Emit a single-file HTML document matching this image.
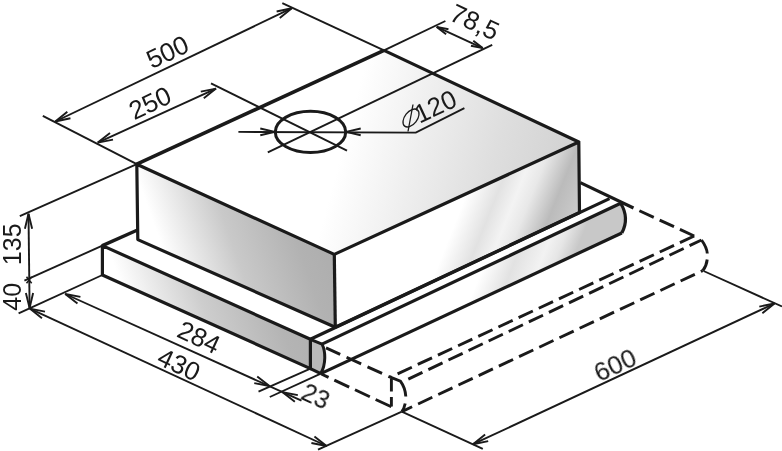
<!DOCTYPE html>
<html><head><meta charset="utf-8"><title>Dimensions</title>
<style>
html,body{margin:0;padding:0;background:#ffffff;}
body{width:782px;height:451px;overflow:hidden;font-family:"Liberation Sans",sans-serif;}
svg{display:block;}
text{font-family:"Liberation Sans",sans-serif;}
</style></head><body>
<svg width="782" height="451" viewBox="0 0 782 451">
<rect width="782" height="451" fill="#ffffff"/>
<defs>
<linearGradient id="gTop" gradientUnits="userSpaceOnUse" x1="350" y1="120" x2="590" y2="185">
<stop offset="0" stop-color="#ffffff"/><stop offset="0.3" stop-color="#eeeeee"/><stop offset="0.6" stop-color="#dedede"/><stop offset="1" stop-color="#cecece"/></linearGradient>
<linearGradient id="gLeft" gradientUnits="userSpaceOnUse" x1="137" y1="250" x2="330" y2="182">
<stop offset="0" stop-color="#ffffff"/><stop offset="0.12" stop-color="#ffffff"/><stop offset="0.45" stop-color="#c9c9c9"/><stop offset="0.75" stop-color="#b2b2b2"/><stop offset="1" stop-color="#ababab"/></linearGradient>
<linearGradient id="gSL" gradientUnits="userSpaceOnUse" x1="102" y1="285" x2="312" y2="212">
<stop offset="0" stop-color="#ffffff"/><stop offset="0.08" stop-color="#ffffff"/><stop offset="0.4" stop-color="#cdcdcd"/><stop offset="0.7" stop-color="#b4b4b4"/><stop offset="1" stop-color="#acacac"/></linearGradient>
<linearGradient id="gRight" gradientUnits="userSpaceOnUse" x1="335" y1="255" x2="575" y2="351">
<stop offset="0" stop-color="#ffffff"/><stop offset="0.385" stop-color="#ffffff"/><stop offset="0.495" stop-color="#e2e2e2"/><stop offset="0.565" stop-color="#f3f3f3"/><stop offset="0.62" stop-color="#e8e8e8"/><stop offset="0.715" stop-color="#bbbbbb"/><stop offset="0.80" stop-color="#c9c9c9"/><stop offset="1" stop-color="#c6c6c6"/></linearGradient>
<linearGradient id="gSF" gradientUnits="userSpaceOnUse" x1="322" y1="330" x2="622" y2="450">
<stop offset="0" stop-color="#ffffff"/><stop offset="0.39" stop-color="#ffffff"/><stop offset="0.475" stop-color="#e2e2e2"/><stop offset="0.55" stop-color="#f2f2f2"/><stop offset="0.59" stop-color="#e6e6e6"/><stop offset="0.64" stop-color="#c8c8c8"/><stop offset="1" stop-color="#c8c8c8"/></linearGradient>
</defs>
<polygon points="136.8,164.2 384,50.4 578.8,142 334.3,254.4" fill="url(#gTop)" stroke="none" stroke-width="0" />
<polygon points="136.8,164.2 334.3,254.4 335.3,327.3 137.8,239.6" fill="url(#gLeft)" stroke="none" stroke-width="0" />
<polygon points="334.3,254.4 578.8,142 579.5,212.5 335.3,327.3" fill="url(#gRight)" stroke="none" stroke-width="0" />
<polygon points="102.4,245.6 310.4,339.3 310.4,368.6 102.4,275" fill="url(#gSL)" stroke="none" stroke-width="0" />
<path d="M310.4,339.3 L322,344.1 C325.6,351 326.2,364 320.8,373.6 L310.4,368.6 Z" fill="#bababa" stroke="none" stroke-width="0" />
<path d="M322,344.1 L620.7,203.2 Q629.7,218.2 621.8,233 L320.8,373.6 C326.2,364 325.6,351 322,344.1 Z" fill="url(#gSF)" stroke="none" stroke-width="0" />
<line x1="42.8" y1="115.8" x2="136.8" y2="164.2" stroke="#1a1a1a" stroke-width="1.9" />
<line x1="282.3" y1="3.1" x2="384" y2="50.4" stroke="#1a1a1a" stroke-width="1.9" />
<line x1="55.3" y1="121.5" x2="291.8" y2="8.2" stroke="#1a1a1a" stroke-width="1.9" />
<polyline points="67.33,111.73 55.3,121.5 70.46,118.25" fill="none" stroke="#1a1a1a" stroke-width="1.9" stroke-linejoin="miter"/>
<polyline points="279.77,17.97 291.8,8.2 276.64,11.45" fill="none" stroke="#1a1a1a" stroke-width="1.9" stroke-linejoin="miter"/>
<line x1="211" y1="83.3" x2="347" y2="150.6" stroke="#1a1a1a" stroke-width="1.9" />
<line x1="97.8" y1="142.6" x2="216" y2="88.6" stroke="#1a1a1a" stroke-width="1.9" />
<polyline points="110.01,133.05 97.8,142.6 113.01,139.63" fill="none" stroke="#1a1a1a" stroke-width="1.9" stroke-linejoin="miter"/>
<polyline points="203.79,98.15 216,88.6 200.79,91.57" fill="none" stroke="#1a1a1a" stroke-width="1.9" stroke-linejoin="miter"/>
<line x1="267.8" y1="152.4" x2="492.2" y2="44.8" stroke="#1a1a1a" stroke-width="1.9" />
<path d="M238.4,131.9 L415.8,132.6 L464.4,108.1" fill="none" stroke="#1a1a1a" stroke-width="1.9" />
<polyline points="260.28,135.27 274.9,131.9 260.28,128.53" fill="none" stroke="#1a1a1a" stroke-width="1.9" stroke-linejoin="miter"/>
<polyline points="360.72,128.53 346.1,131.9 360.72,135.27" fill="none" stroke="#1a1a1a" stroke-width="1.9" stroke-linejoin="miter"/>
<line x1="384" y1="50.4" x2="445.4" y2="21" stroke="#1a1a1a" stroke-width="1.9" />
<line x1="436.7" y1="26.9" x2="482.7" y2="48.1" stroke="#1a1a1a" stroke-width="1.9" />
<polyline points="448.47,29.24 436.7,26.9 446.12,34.33" fill="none" stroke="#1a1a1a" stroke-width="1.9" stroke-linejoin="miter"/>
<polyline points="470.93,45.76 482.7,48.1 473.28,40.67" fill="none" stroke="#1a1a1a" stroke-width="1.9" stroke-linejoin="miter"/>
<line x1="19.8" y1="216.1" x2="136.8" y2="164.2" stroke="#1a1a1a" stroke-width="1.9" />
<line x1="24.4" y1="280.7" x2="102.4" y2="245.6" stroke="#1a1a1a" stroke-width="1.9" />
<line x1="18.6" y1="313.3" x2="102.4" y2="275" stroke="#1a1a1a" stroke-width="1.9" />
<line x1="28.5" y1="213.7" x2="29.6" y2="308" stroke="#1a1a1a" stroke-width="1.9" />
<polyline points="32.15,228.76 28.5,213.7 24.91,228.78" fill="none" stroke="#1a1a1a" stroke-width="1.9" stroke-linejoin="miter"/>
<polyline points="25.89,292.95 29.6,308 33.12,292.91" fill="none" stroke="#1a1a1a" stroke-width="1.9" stroke-linejoin="miter"/>
<polyline points="31.69,283.31 29.1,280.0 26.51,283.31" fill="none" stroke="#1a1a1a" stroke-width="1.5" stroke-linejoin="miter"/>
<polyline points="26.51,276.69 29.1,280.0 31.69,276.69" fill="none" stroke="#1a1a1a" stroke-width="1.5" stroke-linejoin="miter"/>
<line x1="29.8" y1="308.6" x2="326.6" y2="446" stroke="#1a1a1a" stroke-width="1.9" />
<polyline points="45.00,311.65 29.8,308.6 41.96,318.22" fill="none" stroke="#1a1a1a" stroke-width="1.9" stroke-linejoin="miter"/>
<polyline points="311.40,442.95 326.6,446 314.44,436.38" fill="none" stroke="#1a1a1a" stroke-width="1.9" stroke-linejoin="miter"/>
<line x1="318" y1="449.6" x2="401.8" y2="411.6" stroke="#1a1a1a" stroke-width="1.9" />
<line x1="65.2" y1="294" x2="301.5" y2="400.7" stroke="#1a1a1a" stroke-width="1.9" />
<polyline points="80.43,296.90 65.2,294 77.45,303.50" fill="none" stroke="#1a1a1a" stroke-width="1.9" stroke-linejoin="miter"/>
<polyline points="254.27,383.11 269.5,386 257.24,376.51" fill="none" stroke="#1a1a1a" stroke-width="1.9" stroke-linejoin="miter"/>
<polyline points="297.83,395.08 282.6,392.2 294.86,401.68" fill="none" stroke="#1a1a1a" stroke-width="1.9" stroke-linejoin="miter"/>
<line x1="310.4" y1="368.6" x2="258.5" y2="391.6" stroke="#1a1a1a" stroke-width="1.9" />
<line x1="320.8" y1="373.6" x2="269.8" y2="397" stroke="#1a1a1a" stroke-width="1.9" />
<line x1="401.8" y1="411.6" x2="482.8" y2="448.9" stroke="#1a1a1a" stroke-width="1.9" />
<line x1="703.6" y1="271" x2="782" y2="306.5" stroke="#1a1a1a" stroke-width="1.9" />
<line x1="473" y1="444.2" x2="774.5" y2="303.5" stroke="#1a1a1a" stroke-width="1.9" />
<polyline points="485.13,434.55 473,444.2 488.19,441.11" fill="none" stroke="#1a1a1a" stroke-width="1.9" stroke-linejoin="miter"/>
<polyline points="762.37,313.15 774.5,303.5 759.31,306.59" fill="none" stroke="#1a1a1a" stroke-width="1.9" stroke-linejoin="miter"/>
<ellipse cx="310.5" cy="131.9" rx="35.2" ry="20.6" fill="none" stroke="#1a1a1a" stroke-width="3.0"/>
<path d="M136.8,164.2 L384,50.4" fill="none" stroke="#1a1a1a" stroke-width="3.6" />
<path d="M384,50.4 L578.8,142 L334.3,254.4 L136.8,164.2 L137.8,239.6 L335.3,327.3 L579.5,212.5 L578.8,142" fill="none" stroke="#1a1a1a" stroke-width="3.2" stroke-linejoin="round"/>
<line x1="334.3" y1="254.4" x2="335.3" y2="327.3" stroke="#1a1a1a" stroke-width="3.2" />
<path d="M137.5,230 L102.4,245.6" fill="none" stroke="#1a1a1a" stroke-width="3.4" />
<path d="M102.4,245.6 L310.4,339.3 L310.4,368.6 L102.4,275 Z" fill="none" stroke="#1a1a1a" stroke-width="3.2" stroke-linejoin="round"/>
<path d="M310.4,368.6 L320.8,373.6" fill="none" stroke="#1a1a1a" stroke-width="3.2" />
<path d="M310.4,339.3 L322,344.1 C325.6,351 326.2,364 320.8,373.6" fill="none" stroke="#1a1a1a" stroke-width="3.0" stroke-linejoin="round"/>
<path d="M310.4,339.3 L609.5,198.6" fill="none" stroke="#1a1a1a" stroke-width="3.2" />
<path d="M322,344.1 L620.7,203.2" fill="none" stroke="#1a1a1a" stroke-width="3.2" />
<path d="M320.8,373.6 L621.8,233" fill="none" stroke="#1a1a1a" stroke-width="3.2" />
<path d="M620.7,203.2 Q629.7,218.2 621.8,233" fill="none" stroke="#1a1a1a" stroke-width="3.2" />
<path d="M580.3,182.6 L633.5,208" fill="none" stroke="#1a1a1a" stroke-width="3.2" />
<path d="M639.40,210.72 L653.75,217.34 M659.65,220.06 L674.00,226.68 M679.90,229.40 L694.20,236.00 " fill="none" stroke="#1a1a1a" stroke-width="2.9" />
<path d="M694.20,236.00 L679.96,242.62 M674.03,245.37 L659.79,251.99 M653.86,254.74 L639.62,261.36 M633.69,264.11 L619.45,270.73 M613.52,273.48 L599.28,280.10 M593.35,282.86 L579.12,289.47 M573.18,292.23 L558.95,298.84 M553.02,301.60 L538.78,308.21 M532.85,310.97 L518.61,317.58 M512.68,320.34 L498.44,326.96 M492.51,329.71 L478.27,336.33 M472.34,339.08 L458.10,345.70 M452.17,348.45 L437.93,355.07 M432.00,357.83 L417.76,364.44 M411.83,367.20 L397.59,373.81 M391.66,376.57 L390.30,377.20 " fill="none" stroke="#1a1a1a" stroke-width="2.9" />
<path d="M701.50,240.00 L689.57,245.66 M683.67,248.46 L669.48,255.19 M663.57,257.99 L649.39,264.72 M643.48,267.53 L629.29,274.26 M623.39,277.06 L609.20,283.79 M603.29,286.59 L589.11,293.32 M583.20,296.12 L569.01,302.85 M563.10,305.66 L548.92,312.39 M543.01,315.19 L528.83,321.92 M522.92,324.72 L508.73,331.45 M502.82,334.26 L488.64,340.99 M482.73,343.79 L468.55,350.52 M462.64,353.32 L448.45,360.05 M442.54,362.85 L428.36,369.58 M422.45,372.39 L408.30,379.10 " fill="none" stroke="#1a1a1a" stroke-width="2.9" />
<path d="M702.80,270.60 L700.81,271.53 M694.83,274.33 L680.61,280.99 M674.64,283.79 L660.42,290.45 M654.44,293.25 L640.23,299.91 M634.25,302.71 L620.03,309.37 M614.05,312.17 L599.84,318.83 M593.86,321.63 L579.64,328.29 M573.67,331.09 L559.45,337.75 M553.47,340.55 L539.25,347.21 M533.28,350.01 L519.06,356.67 M513.08,359.47 L498.87,366.13 M492.89,368.93 L478.67,375.59 M472.70,378.39 L458.48,385.05 M452.50,387.85 L438.28,394.51 M432.31,397.31 L418.09,403.97 M412.11,406.77 L401.80,411.60 " fill="none" stroke="#1a1a1a" stroke-width="2.9" />
<path d="M701.5,240 C705.5,245.5 707,250 707.3,253.5" fill="none" stroke="#1a1a1a" stroke-width="2.9" />
<path d="M707.2,259.5 C706.8,263.5 705.2,267.5 702.8,270.6" fill="none" stroke="#1a1a1a" stroke-width="2.9" />
<path d="M326.00,347.90 L340.20,354.37 M346.57,357.27 L361.13,363.91 M367.50,366.81 L382.05,373.44 M388.42,376.35 L390.30,377.20 " fill="none" stroke="#1a1a1a" stroke-width="2.9" />
<path d="M391.30,406.80 L375.63,399.46 M369.84,396.74 L354.99,389.79 M349.19,387.07 L334.34,380.11 M328.55,377.40 L321.30,374.00 " fill="none" stroke="#1a1a1a" stroke-width="2.9" />
<path d="M391.4,378.6 L391.4,391.5 M391.4,397.1 L391.4,406.6" fill="none" stroke="#1a1a1a" stroke-width="2.9" />
<path d="M390.3,377.2 L400.4,381.2 C403.6,385.5 405.4,390 405.8,396.5 M405.2,403.5 C404.5,407 403.5,409.5 401.8,411.6" fill="none" stroke="#1a1a1a" stroke-width="2.9" />
<g opacity="0.999">
<text x="167.5" y="52" transform="rotate(-25 167.5 52)" font-size="26" text-anchor="middle" dominant-baseline="central" fill="#1a1a1a" >500</text>
<text x="150" y="103" transform="rotate(-25 150 103)" font-size="26" text-anchor="middle" dominant-baseline="central" fill="#1a1a1a" >250</text>
<text x="474.8" y="22" transform="rotate(25 474.8 22)" font-size="26" text-anchor="middle" dominant-baseline="central" fill="#1a1a1a" >78,5</text>
<text x="435.3" y="106.3" transform="rotate(-25 435.3 106.3)" font-size="26" text-anchor="middle" dominant-baseline="central" fill="#1a1a1a" >120</text>
<g fill="none" stroke="#1a1a1a" stroke-width="1.3"><ellipse cx="411" cy="118" rx="6.2" ry="10.3" transform="rotate(38 411 118)"/><line x1="408" y1="131.5" x2="413" y2="104.5"/></g>
<text x="11.8" y="244.3" transform="rotate(-90 11.8 244.3)" font-size="25" text-anchor="middle" dominant-baseline="central" fill="#1a1a1a" >135</text>
<text x="11.9" y="296.8" transform="rotate(-90 11.9 296.8)" font-size="25" text-anchor="middle" dominant-baseline="central" fill="#1a1a1a" >40</text>
<text x="199" y="337.2" transform="rotate(25 199 337.2)" font-size="26" text-anchor="middle" dominant-baseline="central" fill="#1a1a1a" >284</text>
<text x="179" y="364.5" transform="rotate(25 179 364.5)" font-size="26" text-anchor="middle" dominant-baseline="central" fill="#1a1a1a" >430</text>
<text x="315.8" y="396" transform="rotate(25 315.8 396)" font-size="25" text-anchor="middle" dominant-baseline="central" fill="#1a1a1a" >23</text>
<text x="615" y="364.8" transform="rotate(-25 615 364.8)" font-size="26" text-anchor="middle" dominant-baseline="central" fill="#1a1a1a" >600</text>
</g>
</svg>
</body></html>
